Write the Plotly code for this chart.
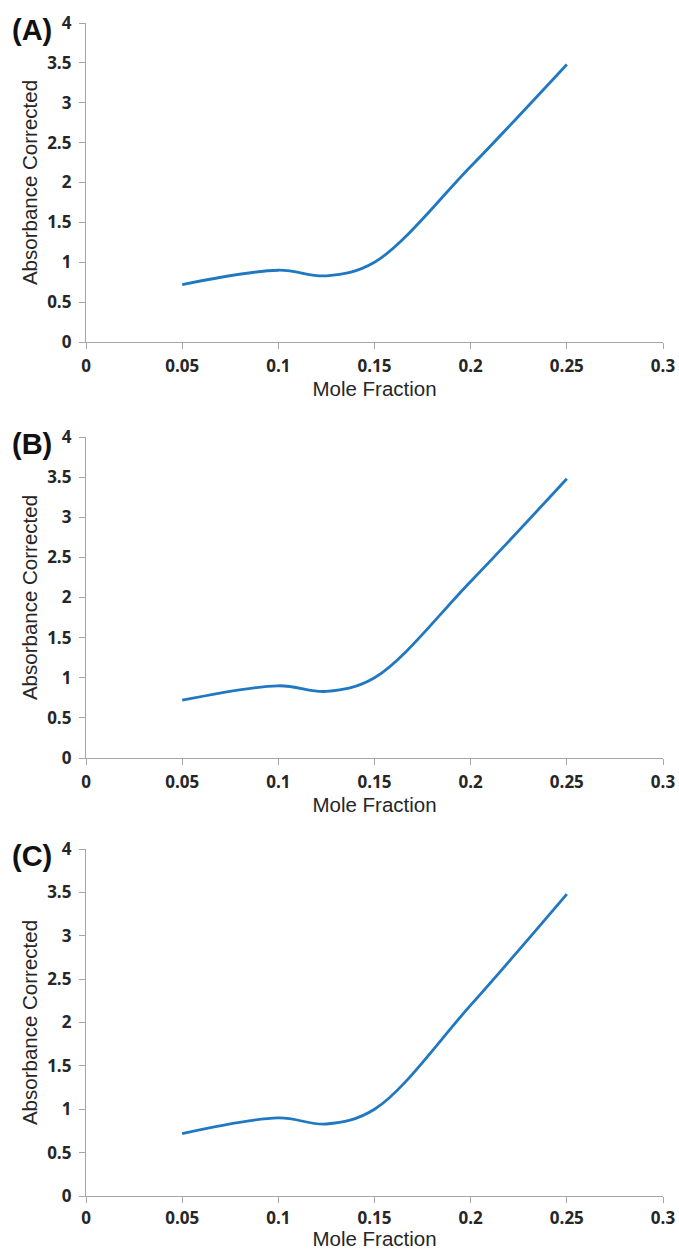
import plotly.graph_objects as go

# Data (same series in each panel)
mole_fraction = [0.05, 0.10, 0.125, 0.15, 0.20, 0.25]
absorbance_a = [0.72, 0.90, 0.83, 1.00, 2.20, 3.48]
absorbance_b = [0.72, 0.90, 0.83, 1.00, 2.20, 3.48]
absorbance_c = [0.72, 0.90, 0.83, 1.00, 2.20, 3.48]
panel_labels = ["(A)", "(B)", "(C)"]
x_ticks = [0, 0.05, 0.1, 0.15, 0.2, 0.25, 0.3]
x_ticktext = ["0", "0.05", "0.1", "0.15", "0.2", "0.25", "0.3"]
y_ticks = [0, 0.5, 1, 1.5, 2, 2.5, 3, 3.5, 4]
y_ticktext = ["0", "0.5", "1", "1.5", "2", "2.5", "3", "3.5", "4"]

# The page body margin is removed (see post_script), so the figure fills the window
OFF = 0
W, H = 679 - OFF, 1250 - OFF


def px_x(p):
    return (p - OFF) / W


def px_y(p):
    return 1 - (p - OFF) / H


x_dom = [px_x(86), px_x(663)]
# pixel (top, bottom) of each plot area in the page
panels_px = [(23, 342), (437, 758), (849, 1196)]
series = [absorbance_a, absorbance_b, absorbance_c]

fig = go.Figure()
LINE = "#1f78c1"
AX = "#a6a6a6"
tickfont = dict(family="Open Sans", size=17, color="#262626", weight="bold")
titlefont = dict(family="Liberation Sans, Arial", size=20.5, color="#262626")

annotations = []
for i, (ys, (top, bot)) in enumerate(zip(series, panels_px)):
    n = "" if i == 0 else str(i + 1)
    last = i == 2
    fig.add_trace(go.Scatter(
        x=mole_fraction, y=ys, mode="lines",
        line=dict(color=LINE, width=2.8, shape="spline", smoothing=1.0),
        xaxis="x" + n, yaxis="y" + n, showlegend=False, hoverinfo="skip",
    ))
    y_dom = [px_y(bot), px_y(top)]
    fig.layout["xaxis" + n] = dict(
        domain=x_dom, range=[0, 0.3], anchor="y" + n, automargin=False,
        tickvals=x_ticks, ticktext=x_ticktext,
        showgrid=False, zeroline=False, showline=True, linecolor=AX, linewidth=1.3,
        ticks="outside", ticklen=6, tickcolor=AX, tickwidth=1.3,
        tickfont=tickfont, ticklabelstandoff=0 if last else 2,
        title=dict(text="Mole Fraction", font=titlefont, standoff=3 if last else 6),
    )
    fig.layout["yaxis" + n] = dict(
        domain=y_dom, range=[0, 4], anchor="x" + n, automargin=False,
        tickvals=y_ticks, ticktext=y_ticktext,
        showgrid=False, zeroline=False, showline=True, linecolor=AX, linewidth=1.3,
        ticks="outside", ticklen=6, tickcolor=AX, tickwidth=1.3,
        tickfont=tickfont, ticklabelstandoff=4,
        title=dict(text="Absorbance Corrected", font=titlefont, standoff=3),
    )
    annotations.append(dict(
        text="<b>" + panel_labels[i] + "</b>", x=px_x(32), y=px_y(top + 7),
        xref="paper", yref="paper", xanchor="center", yanchor="middle",
        showarrow=False, font=dict(family="Liberation Sans, Arial", size=29, color="#111111"),
    ))

fig.update_layout(
    width=W, height=H, margin=dict(l=0, r=0, t=0, b=0),
    paper_bgcolor="white", plot_bgcolor="white",
    annotations=annotations,
)
fig.write_html(
    "out.html",
    config={"displayModeBar": False},
    post_script="document.body.style.margin='0';document.body.style.overflow='hidden';",
)
